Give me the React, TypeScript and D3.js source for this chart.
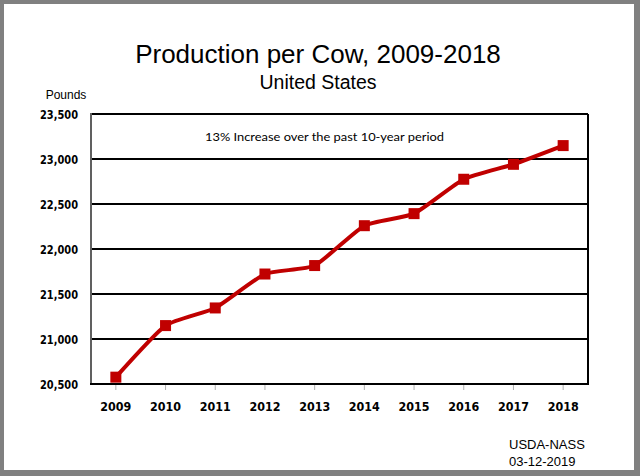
import React from "react";
import * as d3 from "d3";

const years = ["2009","2010","2011","2012","2013","2014","2015","2016","2017","2018"];
const production = [20576, 21149, 21345, 21722, 21816, 22259, 22393, 22775, 22941, 23149];
const yTicks = [20500, 21000, 21500, 22000, 22500, 23000, 23500];

const W = 640, H = 476;
const plot = { left: 91, right: 588, top: 114, bottom: 384 };

export default function App() {
  const x = d3.scaleBand<string>().domain(years).range([plot.left, plot.right]);
  const y = d3.scaleLinear().domain([20500, 23500]).range([plot.bottom, plot.top]);
  const cx = (d: string) => (x(d) as number) + x.bandwidth() / 2;
  const pts: [number, number][] = years.map((yr, i) => [cx(yr), y(production[i])]);
  const line = d3.line().curve(d3.curveCardinal.tension(0.45))(pts) as string;
  const fmt = d3.format(",");
  const red = "#C00000";
  const ms = 11;

  return (
    <svg width={W} height={H} style={{ position: "absolute", left: 0, top: 0 }}>
      <rect x={0} y={0} width={W} height={H} fill="#808080" />
      <rect x={4} y={4} width={630} height={466} fill="#ffffff" />
      <text x={318} y={63} textAnchor="middle" fontFamily="Liberation Sans, Arial" fontSize={26} fill="#000">
        Production per Cow, 2009-2018
      </text>
      <text x={318} y={89} textAnchor="middle" fontFamily="Liberation Sans, Arial" fontSize={19.5} fill="#000">
        United States
      </text>
      <text x={66} y={99} textAnchor="middle" fontFamily="Liberation Sans, Arial" fontSize={12} fill="#000">
        Pounds
      </text>
      {yTicks.map((t) => (
        <g key={t}>
          {t > 20500 && (
            <line x1={plot.left} x2={plot.right} y1={y(t)} y2={y(t)} stroke="#000" strokeWidth={2} />
          )}
          <text x={78} y={y(t) + 4.5} textAnchor="end" fontFamily="DejaVu Sans, Verdana" fontWeight="bold" fontSize={11.5} textLength={38} lengthAdjust="spacingAndGlyphs" fill="#000">
            {fmt(t)}
          </text>
        </g>
      ))}
      <line x1={plot.right} x2={plot.right} y1={plot.top} y2={plot.bottom} stroke="#000" strokeWidth={2} />
      <line x1={plot.left} x2={plot.left} y1={plot.top - 1} y2={plot.bottom} stroke="#606060" strokeWidth={2} />
      {years.map((yr) => (
        <line key={"tk" + yr} x1={cx(yr)} x2={cx(yr)} y1={plot.bottom} y2={plot.bottom + 6} stroke="#b0b0b0" strokeWidth={1} />
      ))}
      <line x1={plot.left - 1} x2={plot.right + 1} y1={plot.bottom} y2={plot.bottom} stroke="#000" strokeWidth={2} />
      {years.map((yr) => (
        <text key={"xl" + yr} x={cx(yr)} y={411} textAnchor="middle" fontFamily="DejaVu Sans, Verdana" fontWeight="bold" fontSize={11.5} textLength={31} lengthAdjust="spacingAndGlyphs" fill="#000">
          {yr}
        </text>
      ))}
      <text x={205} y={141} textLength={239} lengthAdjust="spacingAndGlyphs" fontFamily="Lato, Open Sans" fontSize={12} fill="#000">
        13% Increase over the past 10-year period
      </text>
      <path d={line} fill="none" stroke={red} strokeWidth={4} strokeLinejoin="round" />
      {pts.map(([px, py], i) => (
        <rect key={"m" + i} x={px - ms / 2} y={py - ms / 2} width={ms} height={ms} fill={red} />
      ))}
      <text x={509} y={449} fontFamily="Liberation Sans, Arial" fontSize={13} fill="#000">USDA-NASS</text>
      <text x={509} y={466} fontFamily="Liberation Sans, Arial" fontSize={13} fill="#000">03-12-2019</text>
    </svg>
  );
}
